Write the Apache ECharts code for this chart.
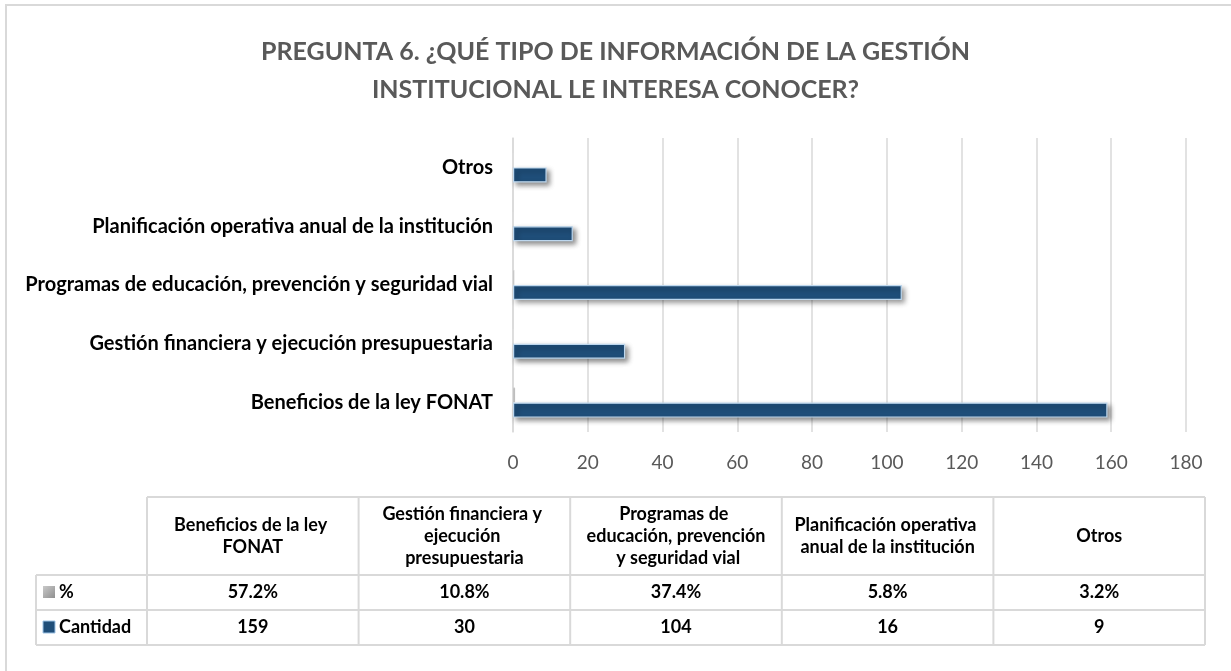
<!doctype html>
<html>
<head>
<meta charset="utf-8">
<script src="https://cdn.jsdelivr.net/npm/echarts@6/dist/echarts.min.js"></script>
<style>
  html, body { margin:0; background:#fff; }
  #chart { width:1231px; height:671px; }
</style>
</head>
<body>
<div id="chart"></div>
<script>
// categories bottom -> top on the axis, left -> right in the data table
const categories = [
  'Beneficios de la ley FONAT',
  'Gestión financiera y ejecución presupuestaria',
  'Programas de educación, prevención y seguridad vial',
  'Planificación operativa anual de la institución',
  'Otros'
];
const pct      = [0.572, 0.108, 0.374, 0.058, 0.032];
const cantidad = [159, 30, 104, 16, 9];
const xMin = 0, xMax = 180, xStep = 20;

const FONT = 'Lato, "Open Sans", sans-serif';
const GRID_LINE = '#d9d9d9';

// data table geometry
const tbl = { left: 36, keyCol: 147, right: 1205, top: 497, rowH: [78, 35, 35] };
const colW = (tbl.right - tbl.keyCol) / categories.length;

function tableGraphics() {
  const g = [];
  const y1 = tbl.top + tbl.rowH[0], y2 = y1 + tbl.rowH[1], y3 = y2 + tbl.rowH[2];
  const line = (x1, ya, x2, yb) => ({
    type: 'line', shape: { x1, y1: ya, x2, y2: yb },
    style: { stroke: GRID_LINE, lineWidth: 2 }, silent: true
  });
  // horizontal borders
  g.push(line(tbl.keyCol, tbl.top, tbl.right, tbl.top));
  g.push(line(tbl.left, y1, tbl.right, y1));
  g.push(line(tbl.left, y2, tbl.right, y2));
  g.push(line(tbl.left, y3, tbl.right, y3));
  // vertical borders
  g.push(line(tbl.left, y1, tbl.left, y3));
  for (let i = 0; i <= categories.length; i++) {
    const x = tbl.keyCol + i * colW;
    g.push(line(x, tbl.top, x, y3));
  }
  const txt = (x, y, text, extra) => ({
    type: 'text', silent: true,
    style: Object.assign({
      x, y, text, align: 'center', verticalAlign: 'middle',
      fontFamily: FONT, fontWeight: 'bold', fontSize: 18, fill: '#000', lineHeight: 22
    }, extra || {})
  });
  categories.forEach((c, i) => {
    const cx = tbl.keyCol + (i + 0.5) * colW;
    g.push(txt(cx, tbl.top + tbl.rowH[0] / 2, c, { width: 196, overflow: 'break' }));
    g.push(txt(cx, y1 + tbl.rowH[1] / 2, (pct[i] * 100).toFixed(1) + '%'));
    g.push(txt(cx, y2 + tbl.rowH[2] / 2, String(cantidad[i])));
  });
  // legend keys
  g.push({ type: 'rect', silent: true, shape: { x: 43, y: y1 + 11, width: 12, height: 12 },
    style: { fill: new echarts.graphic.LinearGradient(0, 0, 1, 1, [
      { offset: 0, color: '#c9c9c9' }, { offset: 1, color: '#8f8f8f' }]) } });
  g.push({ type: 'rect', silent: true, shape: { x: 43, y: y2 + 11, width: 12, height: 12 },
    style: { fill: '#1F4E79', stroke: '#9DC3E6', lineWidth: 1 } });
  g.push(txt(59, y1 + tbl.rowH[1] / 2, '%', { align: 'left' }));
  g.push(txt(59, y2 + tbl.rowH[2] / 2, 'Cantidad', { align: 'left' }));
  return g;
}

const chart = echarts.init(document.getElementById('chart'));
chart.setOption({
  backgroundColor: '#fff',
  animation: false,
  title: {
    text: 'PREGUNTA 6. ¿QUÉ TIPO DE INFORMACIÓN DE LA GESTIÓN\nINSTITUCIONAL LE INTERESA CONOCER?',
    left: 'center', top: 28,
    textStyle: { fontFamily: FONT, fontWeight: 'bold', fontSize: 25, color: '#595959', lineHeight: 38 }
  },
  grid: { left: 513, right: 45, top: 138, bottom: 239, containLabel: false },
  xAxis: {
    type: 'value', min: xMin, max: xMax, interval: xStep,
    axisLine: { show: false }, axisTick: { show: false },
    splitLine: { lineStyle: { color: GRID_LINE, width: 1.5 } },
    axisLabel: { fontFamily: FONT, fontSize: 19, color: '#595959', margin: 21 }
  },
  yAxis: {
    type: 'category', data: categories,
    axisLine: { show: true, lineStyle: { color: GRID_LINE, width: 1.5 } },
    axisTick: { show: false },
    axisLabel: { fontFamily: FONT, fontWeight: 'bold', fontSize: 20, color: '#000', margin: 20 }
  },
  series: [
    {
      name: '%', type: 'bar', data: pct, barWidth: 15, barGap: '0%',
      itemStyle: { color: '#a5a5a5', borderColor: '#e0e0e0', borderWidth: 0.5 }
    },
    {
      name: 'Cantidad', type: 'bar', data: cantidad, barWidth: 15, barGap: '0%',
      itemStyle: {
        color: '#1F4E79', borderColor: '#BDD7EE', borderWidth: 1.2,
        shadowColor: 'rgba(0,0,0,0.45)', shadowBlur: 5, shadowOffsetX: 3, shadowOffsetY: 3
      }
    }
  ],
  graphic: [
    { type: 'rect', silent: true, shape: { x: 6, y: 5, width: 1300, height: 800 },
      style: { fill: 'none', stroke: GRID_LINE, lineWidth: 2 } }
  ].concat(tableGraphics())
});
</script>
</body>
</html>
